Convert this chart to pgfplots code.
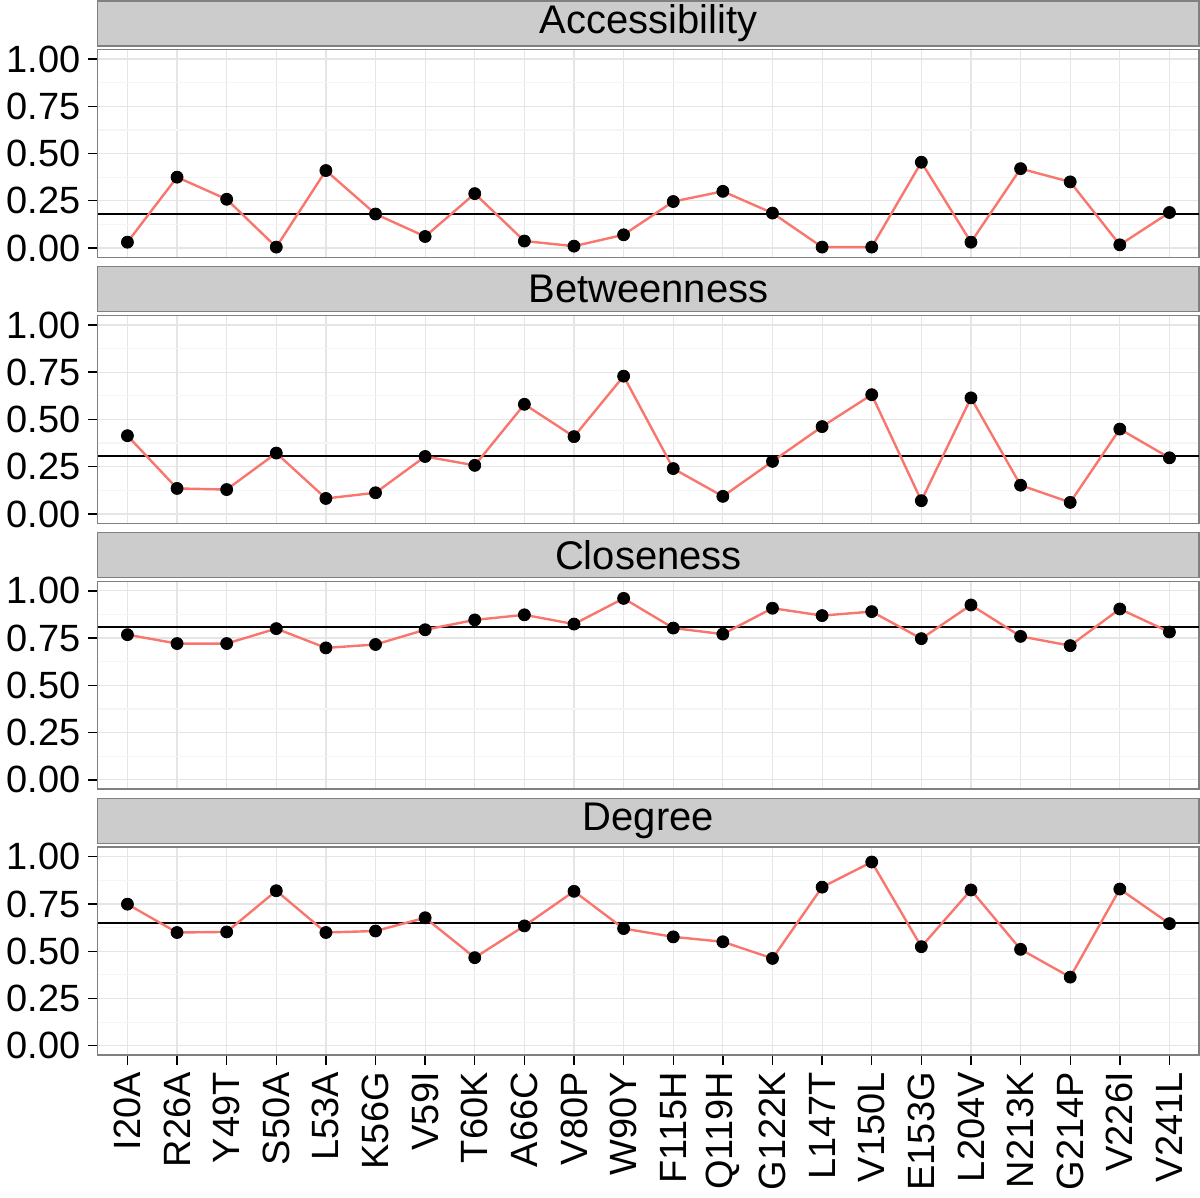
\documentclass[border=0pt]{standalone}
\usepackage{fontspec}
\setmainfont{Liberation Sans}
\usepackage{pgfplots}
\pgfplotsset{compat=1.18}
\usepackage{pgfplotstable}

\definecolor{ggred}{HTML}{F8766D}
\definecolor{stripfill}{HTML}{CCCCCC}

% one row per mutation: accessibility, betweenness, closeness, degree
\pgfplotstableread{
idx acc btw clo deg
0  0.031 0.414 0.768 0.749
1  0.375 0.135 0.721 0.599
2  0.258 0.129 0.721 0.602
3  0.005 0.322 0.800 0.820
4  0.410 0.082 0.698 0.599
5  0.180 0.112 0.716 0.607
6  0.061 0.304 0.794 0.677
7  0.288 0.257 0.846 0.466
8  0.037 0.580 0.873 0.634
9  0.010 0.409 0.824 0.817
10 0.070 0.729 0.960 0.620
11 0.246 0.240 0.803 0.576
12 0.300 0.093 0.771 0.550
13 0.185 0.278 0.908 0.462
14 0.005 0.462 0.869 0.839
15 0.005 0.631 0.890 0.972
16 0.454 0.070 0.747 0.524
17 0.031 0.614 0.925 0.824
18 0.420 0.152 0.759 0.510
19 0.350 0.061 0.710 0.363
20 0.017 0.449 0.904 0.829
21 0.188 0.297 0.782 0.646
}\data

\pgfplotsset{
  panel/.style={
    scale only axis, width=551pt, height=104pt,
    xmin=-0.6, xmax=21.6, ymin=-0.05, ymax=1.05,
    xtick={0,...,21},
    ytick={0,0.25,0.5,0.75,1},
    minor ytick={0.125,0.375,0.625,0.875},
    xmajorgrids, ymajorgrids, yminorgrids,
    major grid style={black!10, line width=0.6pt},
    minor grid style={black!4, line width=0.6pt},
    axis line style={black!50, line width=0.8pt},
    tick align=outside, xtick pos=bottom, ytick pos=left,
    major tick length=5pt, minor tick length=0pt,
    every tick/.style={black, line width=0.7pt},
    yticklabel style={font=\fontsize{19}{19}\selectfont,
      /pgf/number format/fixed, /pgf/number format/fixed zerofill,
      /pgf/number format/precision=2,
      /pgf/number format/assume math mode=true},
    every axis title/.style={at={(0.5,1)}, anchor=south, yshift=1.5pt,
      fill=stripfill, draw=black!50, line width=0.8pt,
      minimum width=551pt, minimum height=22.5pt, inner sep=0pt,
      font=\fontsize{20}{20}\selectfont},
  },
  toppanel/.style={panel, xticklabels={}, xmajorticks=false},
}

\begin{document}
\begin{tikzpicture}
\begin{axis}[toppanel, title={Accessibility}, at={(0,0)}, anchor=south west]
\addplot[black, line width=1pt] coordinates {(-0.6,0.180) (21.6,0.180)};
\addplot[only marks, mark=*, mark size=3pt, black] table[x=idx, y=acc] {\data};
\addplot[ggred, line width=1.2pt] table[x=idx, y=acc] {\data};
\end{axis}

\begin{axis}[toppanel, title={Betweenness}, at={(0,-133pt)}, anchor=south west]
\addplot[black, line width=1pt] coordinates {(-0.6,0.308) (21.6,0.308)};
\addplot[only marks, mark=*, mark size=3pt, black] table[x=idx, y=btw] {\data};
\addplot[ggred, line width=1.2pt] table[x=idx, y=btw] {\data};
\end{axis}

\begin{axis}[toppanel, title={Closeness}, at={(0,-266pt)}, anchor=south west]
\addplot[black, line width=1pt] coordinates {(-0.6,0.808) (21.6,0.808)};
\addplot[only marks, mark=*, mark size=3pt, black] table[x=idx, y=clo] {\data};
\addplot[ggred, line width=1.2pt] table[x=idx, y=clo] {\data};
\end{axis}

\begin{axis}[panel, title={Degree}, at={(0,-399pt)}, anchor=south west,
  xticklabels={I20A,R26A,Y49T,S50A,L53A,K56G,V59I,T60K,A66C,V80P,W90Y,F115H,Q119H,G122K,L147T,V150L,E153G,L204V,N213K,G214P,V226I,V241L},
  xticklabel style={rotate=90, anchor=east, font=\fontsize{19}{19}\selectfont}]
\addplot[black, line width=1pt] coordinates {(-0.6,0.651) (21.6,0.651)};
\addplot[only marks, mark=*, mark size=3pt, black] table[x=idx, y=deg] {\data};
\addplot[ggred, line width=1.2pt] table[x=idx, y=deg] {\data};
\end{axis}
\end{tikzpicture}
\end{document}
